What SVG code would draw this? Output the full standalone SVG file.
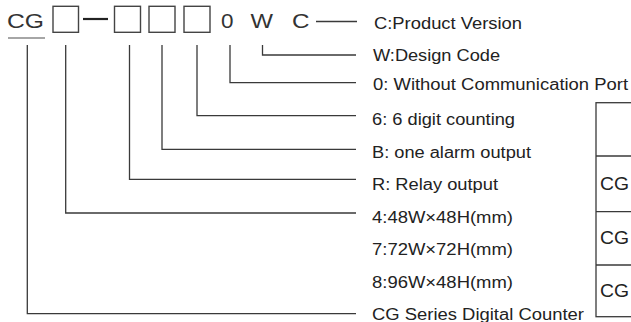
<svg xmlns="http://www.w3.org/2000/svg" width="631" height="322" viewBox="0 0 631 322">
<style>
.t{font-family:"Liberation Sans",Arial,sans-serif;fill:#222;font-size:16px}
.big{font-family:"Liberation Sans",Arial,sans-serif;fill:#333;font-size:21px}
.cg{font-family:"Liberation Sans",Arial,sans-serif;fill:#222;font-size:17.5px}
.ln{fill:none;stroke:#3a3a3a;stroke-width:1.3}
.box{fill:none;stroke:#444;stroke-width:1.4}
</style>
<rect width="631" height="322" fill="#fff"/>
<g id="code">
<text class="big" x="7" y="28" textLength="37" lengthAdjust="spacingAndGlyphs">CG</text>
<line x1="8" y1="38" x2="45" y2="38" stroke="#888" stroke-width="1.5"/>
<rect class="box" x="53" y="6.3" width="25.5" height="26"/>
<line x1="83" y1="19" x2="108" y2="19" stroke="#222" stroke-width="2.2"/>
<rect class="box" x="114.5" y="6.3" width="26" height="26"/>
<rect class="box" x="149" y="6.3" width="26" height="26"/>
<rect class="box" x="184" y="6.3" width="26" height="26"/>
<text class="big" x="221" y="28" textLength="12.5" lengthAdjust="spacingAndGlyphs">0</text>
<text class="big" x="250.5" y="28" textLength="22.5" lengthAdjust="spacingAndGlyphs">W</text>
<text class="big" x="292" y="28" textLength="17.5" lengthAdjust="spacingAndGlyphs">C</text>
</g>
<g id="connectors">
<path class="ln" d="M316,21.5 H357"/>
<path class="ln" d="M262.5,45 V55 H356"/>
<path class="ln" d="M230,45 V82.7 H356"/>
<path class="ln" d="M197,45 V115.7 H356"/>
<path class="ln" d="M162,45 V149.3 H356"/>
<path class="ln" d="M129.5,45 V179.3 H356"/>
<path class="ln" d="M65.7,45 V213 H356"/>
<path class="ln" d="M27.3,45 V313.7 H356"/>
</g>
<g id="labels">
<text class="t" x="374" y="29" textLength="148" lengthAdjust="spacingAndGlyphs">C:Product Version</text>
<text class="t" x="373" y="61" textLength="127" lengthAdjust="spacingAndGlyphs">W:Design Code</text>
<text class="t" x="373" y="90" textLength="255" lengthAdjust="spacingAndGlyphs">0: Without Communication Port</text>
<text class="t" x="372" y="125" textLength="143" lengthAdjust="spacingAndGlyphs">6: 6 digit counting</text>
<text class="t" x="372" y="158" textLength="159" lengthAdjust="spacingAndGlyphs">B: one alarm output</text>
<text class="t" x="372" y="190" textLength="126" lengthAdjust="spacingAndGlyphs">R: Relay output</text>
<text class="t" x="372" y="223" textLength="141" lengthAdjust="spacingAndGlyphs">4:48W×48H(mm)</text>
<text class="t" x="372" y="255" textLength="141" lengthAdjust="spacingAndGlyphs">7:72W×72H(mm)</text>
<text class="t" x="372" y="288" textLength="141" lengthAdjust="spacingAndGlyphs">8:96W×48H(mm)</text>
<text class="t" x="372" y="320" textLength="212" lengthAdjust="spacingAndGlyphs">CG Series Digital Counter</text>
</g>
<g id="table">
<rect class="ln" x="596" y="102.7" width="60" height="214"/>
<line class="ln" x1="596" y1="156" x2="631" y2="156"/>
<line class="ln" x1="596" y1="211.7" x2="631" y2="211.7"/>
<line class="ln" x1="596" y1="265" x2="631" y2="265"/>
<text class="cg" x="600" y="190" textLength="29" lengthAdjust="spacingAndGlyphs">CG</text>
<text class="cg" x="600" y="244" textLength="29" lengthAdjust="spacingAndGlyphs">CG</text>
<text class="cg" x="600" y="297" textLength="29" lengthAdjust="spacingAndGlyphs">CG</text>
</g>
</svg>
